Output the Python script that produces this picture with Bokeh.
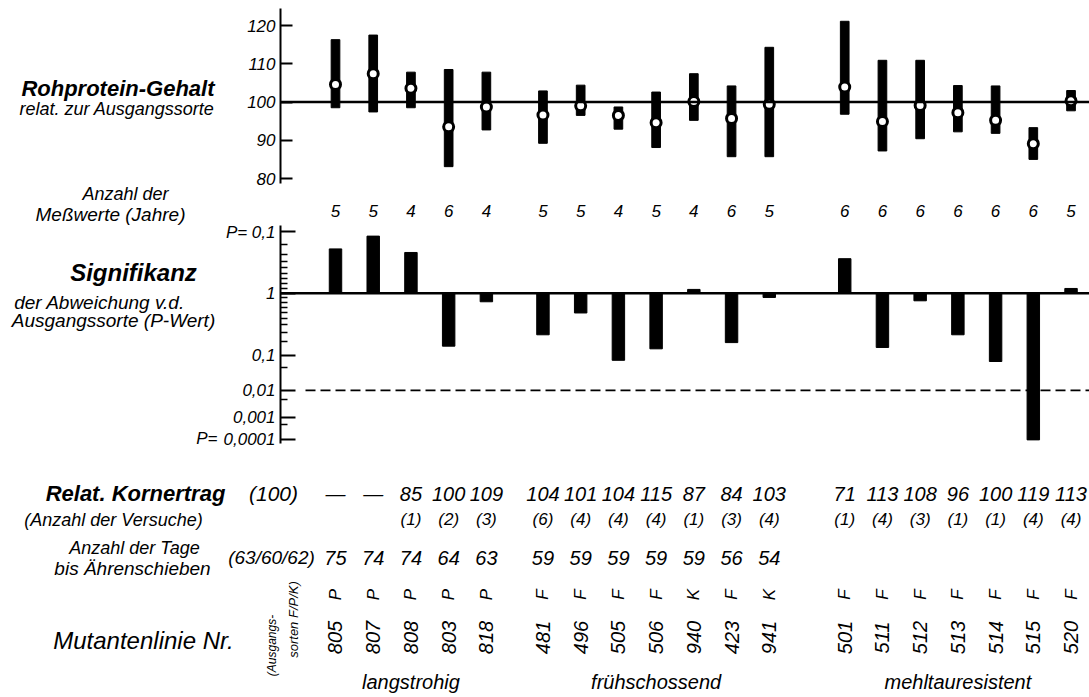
import math
from statistics import NormalDist
from bokeh.plotting import figure
from bokeh.models import Range1d, FixedTicker, Span
from bokeh.layouts import column, row
from bokeh.embed import file_html
from bokeh.resources import INLINE
from bokeh.core.properties import value

# ---------------- data ----------------
lines = ["805", "807", "808", "803", "818",
         "481", "496", "505", "506", "940", "423", "941",
         "501", "511", "512", "513", "514", "515", "520"]
group_of = [0] * 5 + [1] * 7 + [2] * 7
groups = ["langstrohig", "frühschossend", "mehltauresistent"]

prot_mean = [104.6, 107.4, 103.6, 93.5, 98.7, 96.6, 99.0, 96.5, 94.6, 100.1, 95.7, 99.4,
             103.9, 94.9, 99.1, 97.2, 95.2, 89.1, 100.3]
prot_lo = [98.5, 97.4, 98.5, 83.1, 92.7, 89.2, 96.5, 92.9, 88.1, 95.2, 85.7, 85.7,
           96.8, 87.2, 90.4, 92.2, 91.8, 85.0, 97.7]
prot_hi = [116.3, 117.5, 107.8, 108.5, 107.8, 102.9, 104.4, 98.7, 102.6, 107.4, 104.2, 114.3,
           121.1, 110.9, 110.9, 104.3, 104.2, 93.3, 103.0]
n_years = [5, 5, 4, 6, 4, 5, 5, 4, 5, 4, 6, 5, 6, 6, 6, 6, 6, 6, 5]

# P-value of the deviation and its direction (+1 above, -1 below the parent variety)
p_value = [0.24, 0.13, 0.28, 0.16, 0.82, 0.27, 0.60, 0.075, 0.14, 0.92, 0.19, 0.91,
           0.36, 0.15, 0.84, 0.27, 0.07, 0.0001, 0.90]
direction = [1, 1, 1, -1, -1, -1, -1, -1, -1, 1, -1, -1, 1, -1, -1, -1, -1, -1, 1]

yield_rel = [None, None, 85, 100, 109, 104, 101, 104, 115, 87, 84, 103,
             71, 113, 108, 96, 100, 119, 113]
n_trials = [None, None, 1, 2, 3, 6, 4, 4, 4, 1, 3, 4, 1, 4, 3, 1, 1, 4, 4]
days_heading = [75, 74, 74, 64, 63, 59, 59, 59, 59, 59, 56, 54,
                None, None, None, None, None, None, None]
parent = ["P", "P", "P", "P", "P", "F", "F", "F", "F", "K", "F", "K",
          "F", "F", "F", "F", "F", "F", "F"]

prot_ticks = [80, 90, 100, 110, 120]
sig_major_p = [0.1, 1, 0.1, 0.01, 0.001, 0.0001]
sig_major_dir = [1, 0, -1, -1, -1, -1]
sig_major_lab = ["P= 0,1", "1", "0,1", "0,01", "0,001", "0,0001"]
sig_minor_up = [0.2, 0.3, 0.4, 0.5, 0.6, 0.7, 0.8, 0.9]
sig_minor_down = [0.9, 0.8, 0.7, 0.6, 0.5, 0.4, 0.3, 0.2, 0.05, 0.005, 0.0005]
sig_line_p = 0.01

# ---------------- layout helpers ----------------
FONT = "Liberation Sans"
FV = value(FONT)
W = 1089
AX = 280          # canvas x of the y axes
LW = 218          # width of the left text strip beside the two panels
U = 37.72         # px per column slot
X0 = -1.458       # data x at the axis line
XE = X0 + (W - AX) / U


def cx(c):
    return X0 + (c - AX) / U


def z_of(p):
    if p >= 1:
        return 0.0
    return NormalDist().inv_cdf(1 - p / 2)


n = len(lines)
xs = [i + (0.5 if g == 1 else 1.5 if g == 2 else 0.0) for i, g in enumerate(group_of)]


def clean(p):
    p.outline_line_color = None
    p.xgrid.visible = False
    p.ygrid.visible = False
    p.background_fill_color = "white"
    p.border_fill_color = "white"
    return p


def panel(height, yr):
    p = figure(width=W - LW, height=height, x_range=Range1d(X0, XE), y_range=yr,
               output_backend="svg", toolbar_location=None, x_axis_location=None,
               min_border_left=AX - LW, min_border_right=0, min_border_top=0,
               min_border_bottom=0)
    return clean(p)


def style_axis(ax):
    ax.axis_line_width = 2
    ax.axis_line_color = "black"
    ax.major_tick_line_width = 2
    ax.major_tick_out = 0
    ax.minor_tick_out = 0
    ax.major_label_text_font = FONT
    ax.major_label_text_font_style = "italic"
    ax.major_label_text_font_size = "17px"
    ax.major_label_text_color = "black"
    ax.major_label_standoff = 5


def txt(p, x, y, texts, size, style="italic", angle=0.0, align="center", **kw):
    p.text(x=x, y=y, text=texts, angle=angle, text_align=align, text_baseline="middle",
           text_font=FV, text_font_style=style, text_font_size=size, text_color="black",
           **kw)


# ---------------- top panel: protein ----------------
HA = 222
pa = panel(HA, Range1d(120 - (HA - 25) / 3.825, 120 + 25 / 3.825))
pa.extra_y_ranges = {"rows": Range1d(HA, 0)}
ya = pa.yaxis[0]
style_axis(ya)
ya.ticker = FixedTicker(ticks=prot_ticks, minor_ticks=[])
ya.bounds = (78.7, 124.4)
ya.major_tick_in = 12
ya.minor_tick_line_color = None
pa.add_layout(Span(location=100, dimension="width", line_width=2.5, line_color="black"))
pa.vbar(x=xs, bottom=prot_lo, top=prot_hi, width=0.23, color="black")
pa.scatter(x=xs, y=prot_mean, marker="circle", size=10, fill_color="white",
           line_color="black", line_width=3)
txt(pa, xs, [210] * n, [str(v) for v in n_years], "17px", y_range_name="rows")

# ---------------- middle panel: significance ----------------
HB = 248
Z0 = 292.7 - HA   # px offset of P=1 inside the panel
ZU = 37.7         # px per normal deviate
pb = panel(HB, Range1d(-(HB - Z0) / ZU, Z0 / ZU))
yb = pb.yaxis[0]
style_axis(yb)
major_z = [d * z_of(pv) for pv, d in zip(sig_major_p, sig_major_dir)]
minor_z = [z_of(pv) for pv in sig_minor_up] + [-z_of(pv) for pv in sig_minor_down]
yb.ticker = FixedTicker(ticks=major_z, minor_ticks=minor_z)
yb.major_label_overrides = {zv: t for zv, t in zip(major_z, sig_major_lab)}
yb.bounds = (-3.987, 1.796)
yb.major_tick_in = 15
yb.minor_tick_in = 7
yb.minor_tick_line_width = 1.5
yb.minor_tick_line_color = "black"
sig_z = [d * z_of(pv) for pv, d in zip(p_value, direction)]
pb.vbar(x=xs, bottom=0, top=sig_z, width=0.33, color="black")
pb.add_layout(Span(location=0, dimension="width", line_width=2.5, line_color="black"))
zl = -z_of(sig_line_p)
pb.segment(x0=[cx(305)], y0=[zl], x1=[XE], y1=[zl], line_color="black",
           line_width=1.8, line_dash="10 5")

# ---------------- left strip with the row titles of both panels ----------------
pl = figure(width=LW, height=HA + HB, x_range=Range1d(0, LW), y_range=Range1d(HA + HB, 0),
            output_backend="svg", toolbar_location=None, x_axis_location=None,
            y_axis_location=None, min_border=0, min_border_left=0, min_border_right=0,
            min_border_top=0, min_border_bottom=0)
clean(pl)
txt(pl, [214], [88], ["Rohprotein-Gehalt"], "22px", "bold italic", align="right")
txt(pl, [214], [108], ["relat. zur Ausgangssorte"], "18px", align="right")
txt(pl, [125], [193], ["Anzahl der"], "18px")
txt(pl, [110], [214], ["Meßwerte (Jahre)"], "19px")
txt(pl, [133], [272], ["Signifikanz"], "24px", "bold italic")
txt(pl, [99], [302], ["der Abweichung v.d."], "19px")
txt(pl, [113], [320], ["Ausgangssorte (P-Wert)"], "19px")
txt(pl, [217], [438], ["P="], "17px", align="right")

# ---------------- bottom panel: table ----------------
HC = 697 - HA - HB
pc = figure(width=W, height=HC, x_range=Range1d(cx(0), XE),
            y_range=Range1d(697, HA + HB),
            output_backend="svg", toolbar_location=None, x_axis_location=None,
            y_axis_location=None, min_border=0, min_border_left=0, min_border_right=0,
            min_border_top=0, min_border_bottom=0)
clean(pc)

txt(pc, xs, [493] * n, ["—" if v is None else str(v) for v in yield_rel], "20px")
txt(pc, xs, [519] * n, ["" if v is None else "(%d)" % v for v in n_trials], "17px")
txt(pc, xs, [557] * n, ["" if v is None else str(v) for v in days_heading], "20px")
txt(pc, xs, [594] * n, parent, "17px", angle=math.pi / 2)
txt(pc, xs, [637] * n, lines, "20px", angle=math.pi / 2)
gx = [sum(x for x, g in zip(xs, group_of) if g == k) / group_of.count(k) for k in range(3)]
txt(pc, gx, [681] * 3, groups, "20px")

txt(pc, [cx(135)], [493], ["Relat. Kornertrag"], "22px", "bold italic")
txt(pc, [cx(273)], [493], ["(100)"], "21px")
txt(pc, [cx(113)], [519], ["(Anzahl der Versuche)"], "18px")
txt(pc, [cx(134)], [547], ["Anzahl der Tage"], "18px")
txt(pc, [cx(132)], [568], ["bis Ährenschieben"], "19px")
txt(pc, [cx(271)], [557], ["(63/60/62)"], "19px")
txt(pc, [cx(143)], [640], ["Mutantenlinie Nr."], "24px")
txt(pc, [cx(271)], [645], ["(Ausgangs-"], "12px", angle=math.pi / 2)
txt(pc, [cx(293)], [619], ["sorten F/P/K)"], "13px", angle=math.pi / 2)

layout = column(row(pl, column(pa, pb)), pc)
open("out.html", "w").write(file_html(layout, INLINE))
